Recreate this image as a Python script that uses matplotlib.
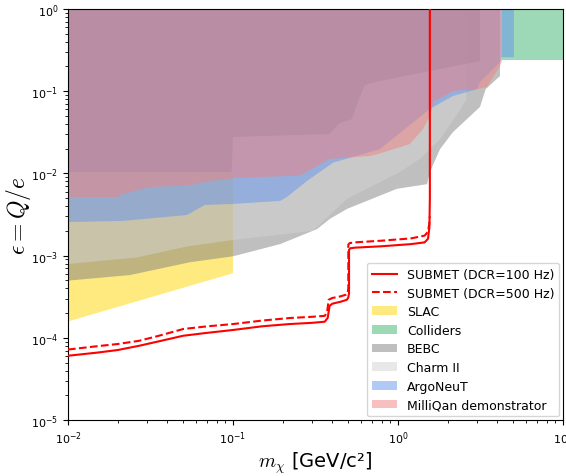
import numpy as np
import matplotlib
matplotlib.use('Agg')
import matplotlib.pyplot as plt

plt.rcParams['mathtext.fontset'] = 'cm'

# ---- excluded regions: lower boundaries (mass GeV, epsilon) ----
slac_x = [0.01, 0.1]
slac_y = [1.58e-4, 6.1e-4]
slac_top = 0.0104

coll_x = [4.27, 10.0]
coll_y = [0.24, 0.24]

bebc_x = [0.01, 0.0238, 0.0548, 0.1, 0.193, 0.323, 0.387, 0.491, 0.986, 1.50, 1.56,
          1.80, 2.15, 3.14, 3.40, 4.15]
bebc_y = [4.96e-4, 5.8e-4, 8.3e-4, 9.8e-4, 1.38e-3, 2.1e-3, 2.8e-3, 3.7e-3, 6.5e-3, 7.4e-3,
          0.0104, 0.0198, 0.0317, 0.0643, 0.106, 0.153]
# upper BEBC piece
bebc2_x = [0.01, 0.098, 0.1, 0.387, 0.433, 0.526, 0.588, 0.631, 0.778, 1.56, 2.07, 3.14]
bebc2_y = [0.0104, 0.0104, 0.0277, 0.0302, 0.0399, 0.0459, 0.0874, 0.119, 0.133, 0.176,
           0.197, 0.233]

charm_x = [0.01, 0.0262, 0.0525, 0.1, 0.305, 0.491, 1.03, 1.36, 1.80, 2.40, 2.60]
charm_y = [7.9e-4, 9.5e-4, 1.29e-3, 1.55e-3, 2.0e-3, 4.9e-3, 0.0104, 0.015, 0.026, 0.0607,
           0.08]

argo_x = [0.01, 0.0215, 0.0526, 0.0676, 0.1, 0.193, 0.212, 0.281, 0.404, 0.778, 1.56, 2.15,
          3.01, 3.14, 4.15, 4.27, 5.04]
argo_y = [2.56e-3, 2.64e-3, 3.12e-3, 4.13e-3, 4.25e-3, 4.63e-3, 5.16e-3, 8.1e-3, 0.0135,
          0.0198, 0.0608, 0.0874, 0.106, 0.129, 0.226, 0.26, 0.26]

mq_x = [0.01, 0.0205, 0.0207, 0.0314, 0.0526, 0.0726, 0.095, 0.1, 0.255, 0.323, 0.387, 0.676,
        0.778, 1.18, 1.42, 1.56, 1.65, 2.15, 2.62, 3.01, 3.46, 4.15, 4.27]
mq_y = [5.16e-3, 5.16e-3, 5.5e-3, 6.84e-3, 7.1e-3, 8.1e-3, 8.5e-3, 8.8e-3, 9.4e-3, 0.0123,
        0.015, 0.0163, 0.0175, 0.0228, 0.0347, 0.05, 0.075, 0.1, 0.105, 0.106, 0.112, 0.202,
        0.233]

# ---- SUBMET projections ----
sub100_x = [0.01, 0.015, 0.02, 0.027, 0.035, 0.05, 0.07, 0.1, 0.15, 0.22, 0.3, 0.36, 0.375,
            0.385, 0.40, 0.45, 0.49, 0.50, 0.505, 0.505, 0.515, 0.55, 0.8, 1.2, 1.45, 1.52,
            1.55, 1.56, 1.56]
sub100_y = [6.05e-5, 6.6e-5, 7.1e-5, 8.0e-5, 9.0e-5, 1.06e-4, 1.15e-4, 1.245e-4, 1.38e-4,
            1.47e-4, 1.52e-4, 1.57e-4, 1.75e-4, 2.45e-4, 2.6e-4, 2.75e-4, 2.9e-4, 3.1e-4,
            3.5e-4, 1.18e-3, 1.23e-3, 1.25e-3, 1.3e-3, 1.38e-3, 1.45e-3, 1.6e-3, 2.2e-3, 5e-3,
            1.0]
sub500_x = [0.01, 0.015, 0.02, 0.027, 0.035, 0.05, 0.07, 0.1, 0.15, 0.22, 0.3, 0.36, 0.372,
            0.38, 0.40, 0.45, 0.485, 0.495, 0.50, 0.50, 0.51, 0.55, 0.8, 1.2, 1.45, 1.52,
            1.55, 1.56]
sub500_y = [7.2e-5, 7.9e-5, 8.4e-5, 9.2e-5, 1.05e-4, 1.28e-4, 1.38e-4, 1.47e-4, 1.62e-4,
            1.74e-4, 1.8e-4, 1.85e-4, 2.05e-4, 2.9e-4, 3.05e-4, 3.2e-4, 3.35e-4, 3.45e-4,
            4.0e-4, 1.36e-3, 1.42e-3, 1.45e-3, 1.52e-3, 1.62e-3, 1.75e-3, 1.95e-3, 2.5e-3,
            3.0e-3]

TOP = 1.0


def region(ax, xs, ys, color, label=None, top=TOP):
    px = list(xs) + [xs[-1], xs[0]]
    py = list(ys) + [top, top]
    ax.fill(px, py, color=color, alpha=0.5, lw=0, label=label)


fig = plt.figure(figsize=(5.66, 4.77), dpi=100)
ax = fig.add_axes([0.1201, 0.1174, 0.8746, 0.8616])

ax.plot(sub100_x, sub100_y, color='red', lw=1.5, label='SUBMET (DCR=100 Hz)', zorder=5)
ax.plot(sub500_x, sub500_y, color='red', lw=1.5, ls='--', label='SUBMET (DCR=500 Hz)',
        zorder=5)

region(ax, slac_x, slac_y, 'gold', 'SLAC', top=slac_top)
region(ax, coll_x, coll_y, 'mediumseagreen', 'Colliders')
region(ax, bebc_x, bebc_y, 'grey', 'BEBC')
region(ax, charm_x, charm_y, 'lightgrey', 'Charm II')
region(ax, bebc2_x, bebc2_y, 'grey')
region(ax, argo_x, argo_y, 'cornflowerblue', 'ArgoNeuT')
region(ax, mq_x, mq_y, 'lightcoral', 'MilliQan demonstrator')

ax.set_xscale('log')
ax.set_yscale('log')
ax.set_xlim(1e-2, 10)
ax.set_ylim(1e-5, 1)
ax.tick_params(labelsize=8)

ax.set_xlabel(r'$m_\chi$ [GeV/c²]', fontsize=14, labelpad=2)
ax.set_ylabel(r'$\epsilon = Q/e$', fontsize=17)
ax.yaxis.set_label_coords(-0.07, 0.5)

ax.legend(loc='lower right', fontsize=9, borderaxespad=0.3, labelspacing=0.45)

fig.savefig('out.png', dpi=100)
